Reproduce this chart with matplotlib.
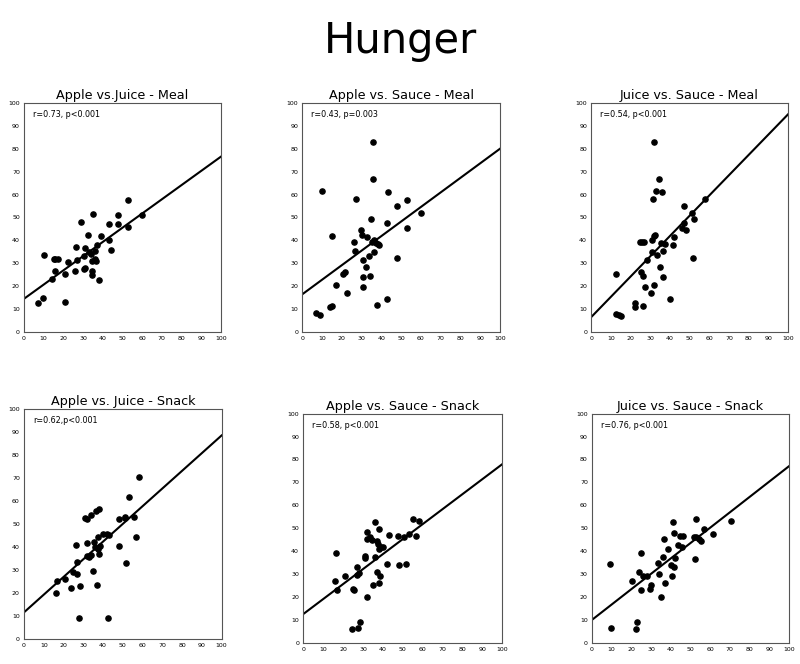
import matplotlib.pyplot as plt

# panel titles and stats text
titles = ["Apple vs.Juice - Meal", "Apple vs. Sauce - Meal", "Juice vs. Sauce - Meal",
          "Apple vs. Juice - Snack", "Apple vs. Sauce - Snack", "Juice vs. Sauce - Snack"]
stats = ["r=0.73, p<0.001", "r=0.43, p=0.003", "r=0.54, p<0.001",
         "r=0.62,p<0.001", "r=0.58, p<0.001", "r=0.76, p<0.001"]

# regression lines: value at x=0 and at x=100
line_y0 = [14.5, 16.5, 6.5, 11.5, 12.5, 10.0]
line_y100 = [76.5, 80.0, 95.0, 88.5, 78.0, 77.0]

# scatter data (estimated)
x1 = [7, 9.5, 10, 15, 16, 17.5, 15.5, 14, 21, 21, 22.5, 26, 27, 26.5, 29, 30.5, 31, 31, 30.5, 32.5,
      33, 34, 34.5, 34.5, 34.5, 35, 36, 36, 36.5, 37, 38, 39, 43, 43, 44, 48, 48, 53, 53, 60]
y1 = [12.5, 15, 33.5, 32, 32, 32, 26.5, 23, 25.5, 13, 30.5, 26.5, 31.5, 37, 48, 33, 36.5, 28, 27.5, 42.5,
      35, 34, 26.5, 25, 31, 51.5, 35.5, 32, 31, 38, 22.5, 42, 47, 40, 36, 51, 47, 57.5, 46, 51]

x2 = [7, 9, 10, 14, 15, 15, 17, 20.5, 21.5, 22.5, 26, 27, 26.5, 29.5, 30, 30.5, 30.5, 30.5, 32, 32.5,
      33.5, 34, 34.5, 35, 35.5, 35.5, 36, 36, 37, 38, 38.5, 39, 43, 43, 43.5, 48, 48, 53, 53, 60]
y2 = [8.5, 7.5, 61.5, 11, 11.5, 42, 20.5, 25.5, 26, 17, 39.5, 58, 35.5, 44.5, 42.5, 31.5, 19.5, 24, 28.5, 41.5,
      33, 24.5, 49.5, 39.5, 83, 67, 40, 35, 39, 12, 38.5, 38, 47.5, 14.5, 61, 55, 32.5, 57.5, 45.5, 52]

x3 = [12.5, 12.5, 14, 15, 22.5, 22.5, 25, 26, 27, 25.5, 26.5, 26.5, 27.5, 28.5, 30.5, 31, 31, 31.5, 32, 32,
      32.5, 32, 33, 33.5, 34.5, 35, 35.5, 36, 36.5, 36.5, 37.5, 40, 41.5, 42, 46, 47, 47, 48, 51, 51.5, 52, 58]
y3 = [25.5, 8, 7.5, 7, 12.5, 11, 39.5, 39.5, 39.5, 26, 24.5, 11.5, 19.5, 31.5, 17, 35, 40, 58, 83, 42,
      42.5, 20.5, 61.5, 33.5, 67, 28.5, 39, 61, 24, 35.5, 38.5, 14.5, 38, 41.5, 45.5, 47.5, 55, 44.5, 52, 32.5, 49.5, 58]

x4 = [16, 16.5, 20.5, 24, 25, 26.5, 27, 27, 28, 28.5, 31, 32, 32, 32, 33, 34, 34, 35, 35.5, 36,
      36.5, 37, 37.5, 37.5, 38, 38, 38.5, 40, 42, 42.5, 43, 48, 48, 51, 51, 51.5, 53, 55.5, 56.5, 58]
y4 = [20, 25, 26, 22, 29, 41, 28, 33.5, 9, 23, 52.5, 52, 41.5, 36, 35.5, 54, 36.5, 29.5, 42, 40,
      55.5, 23.5, 44.5, 39, 56.5, 37, 40.5, 45.5, 45.5, 9, 45, 52, 40.5, 53, 52.5, 33, 61.5, 53, 44.5, 70.5]

x5 = [16, 16.5, 17, 21, 25, 25.5, 24.5, 27.5, 28.5, 27, 27, 28, 31, 31, 32, 32, 32, 33.5, 34.5, 35, 36,
      36, 37, 37, 37.5, 38, 38, 38.5, 38, 39, 40, 42, 43, 47.5, 48, 50.5, 51.5, 53, 55, 56.5, 58]
y5 = [27, 39, 23, 29, 23.5, 23, 6, 6.5, 9, 33, 29.5, 30.5, 37, 38, 20, 48.5, 45.5, 46, 45, 25, 37.5,
      52.5, 44.5, 31, 43, 49.5, 41, 29, 26, 42, 42, 34.5, 47, 46.5, 34, 46, 34.5, 47.5, 54, 46.5, 53]

x6 = [9, 9.5, 20.5, 22.5, 23, 24, 25, 25, 26, 28, 29.5, 30, 33.5, 34, 35, 36, 36.5, 37, 38.5, 40,
      40.5, 41, 41.5, 41.5, 42, 43.5, 44.5, 45.5, 46, 52, 52.5, 53, 53, 54.5, 55.5, 57, 61.5, 70.5]
y6 = [34.5, 6.5, 27, 6, 9, 31, 23, 39, 29, 29, 23.5, 25, 35, 30, 20, 37.5, 45.5, 26, 41, 34,
      29, 52.5, 48, 33, 37, 42.5, 46.5, 42, 46.5, 46, 36.5, 54, 46, 45.5, 44.5, 49.5, 47.5, 53]

xs = [x1, x2, x3, x4, x5, x6]
ys = [y1, y2, y3, y4, y5, y6]

# axes boxes in figure fractions [left, bottom, width, height]
boxes = [[0.030, 0.500, 0.246, 0.345], [0.378, 0.500, 0.247, 0.345], [0.739, 0.500, 0.246, 0.345],
         [0.030, 0.038, 0.247, 0.346], [0.379, 0.032, 0.249, 0.345], [0.740, 0.032, 0.246, 0.345]]

fig = plt.figure(figsize=(8, 6.64), dpi=100)
fig.text(0.5, 0.97, "Hunger", ha='center', va='top', fontsize=30)

ticks = list(range(0, 101, 10))
for i in range(6):
    ax = fig.add_axes(boxes[i])
    ax.scatter(xs[i], ys[i], s=14, color='black', zorder=3)
    ax.plot([0, 100], [line_y0[i], line_y100[i]], color='black', linewidth=1.5)
    ax.set_xlim(0, 100)
    ax.set_ylim(0, 100)
    ax.set_xticks(ticks)
    ax.set_yticks(ticks)
    ax.tick_params(labelsize=4.5, length=0, pad=3)
    for sp in ax.spines.values():
        sp.set_color('#555555')
        sp.set_linewidth(0.8)
    ax.set_title(titles[i], fontsize=9.2, pad=3)
    ax.text(4.5, 95, stats[i], fontsize=5.8, va='center', ha='left')

fig.savefig("out.png", dpi=100)
